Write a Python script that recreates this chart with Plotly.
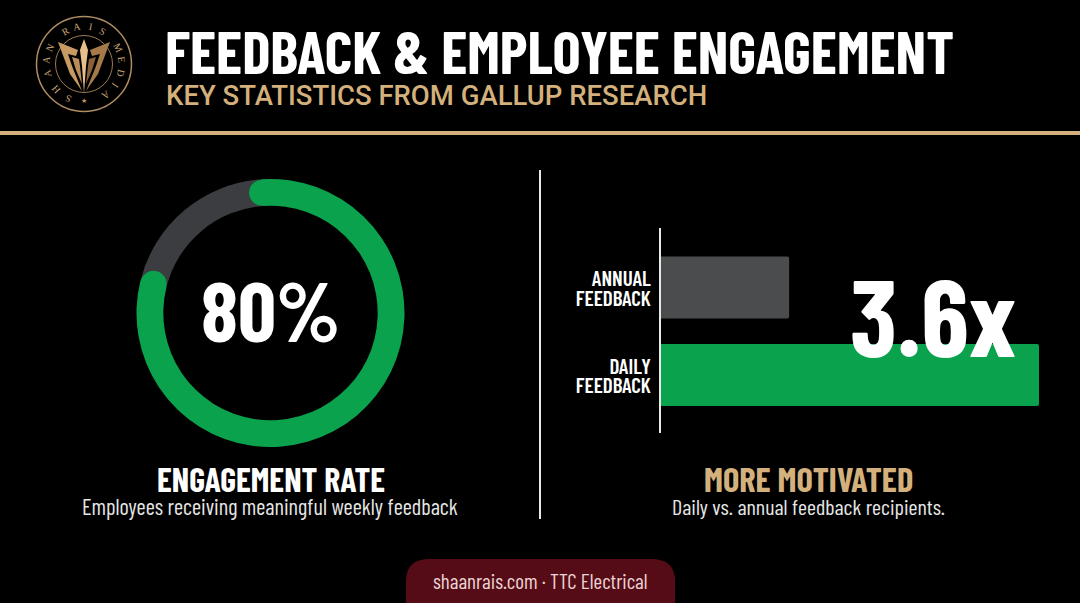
import math
import plotly.graph_objects as go

W, H = 1080, 603
FONT = "Barlow Condensed, Liberation Sans"
GOLD = "#d3b07c"
GREEN = "#0aa24d"

# data
ring_labels = ["Engaged", "Other"]
ring_values = [80, 20]
bar_labels = ["ANNUAL<br>FEEDBACK", "DAILY<br>FEEDBACK"]
bar_values = [1.0, 2.95]
bar_colors = ["#4a4c4d", GREEN]

# logo letters: (letter, degrees clockwise from the top)
logo_letters = [
    ("R", -30), ("A", -10), ("I", 10), ("S", 30),
    ("M", 64), ("E", 83), ("D", 103), ("I", 124), ("A", 146),
    ("S", 204), ("H", 228), ("A", 256), ("A", 277), ("N", 296),
]


def px(x):
    return x / W


def py(y):
    return 1 - y / H


def path(points):
    # pixel points to a closed paper path
    return "M " + " L ".join(f"{px(x):.5f},{py(y):.5f}" for x, y in points) + " Z"


def circle(cx, cy, r, **kw):
    return dict(type="circle", xref="paper", yref="paper",
                x0=px(cx - r), x1=px(cx + r), y0=py(cy + r), y1=py(cy - r), **kw)


def line(x0, y0, x1, y1, color, width):
    return dict(type="line", xref="paper", yref="paper", x0=px(x0), x1=px(x1),
                y0=py(y0), y1=py(y1), line=dict(color=color, width=width))


def text(x, y, s, size, color="white", weight=400, family=FONT, angle=0, anchor="center"):
    return dict(x=px(x), y=py(y), xref="paper", yref="paper", text=s, showarrow=False,
                textangle=angle, xanchor=anchor, yanchor="middle",
                font=dict(family=family, size=size, color=color, weight=weight))


fig = go.Figure()

# donut
cx, cy = 270.5, 313
start = -4
fig.add_trace(go.Pie(
    labels=ring_labels, values=ring_values, hole=0.8, sort=False, direction="clockwise",
    rotation=start, textinfo="none", showlegend=False,
    marker=dict(colors=[GREEN, "#3b3d40"], line=dict(width=0)),
    domain=dict(x=[px(cx - 134), px(cx + 134)], y=[py(cy + 134), py(cy - 134)]),
))

# bars
fig.add_trace(go.Bar(
    y=bar_labels, x=bar_values, orientation="h", width=0.71,
    marker=dict(color=bar_colors, line=dict(width=0), cornerradius=2),
    showlegend=False,
))

shapes = [
    line(0, 133, W, 133, GOLD, 4),
    line(540, 170, 540, 519, "#e8e8e8", 2),
    # footer tab
    dict(type="path", xref="paper", yref="paper", fillcolor="#560c17", line=dict(width=0),
         path=(f"M {px(406):.5f},{py(603):.5f} L {px(406):.5f},{py(581):.5f} "
               f"Q {px(406):.5f},{py(559):.5f} {px(430):.5f},{py(559):.5f} "
               f"L {px(651):.5f},{py(559):.5f} "
               f"Q {px(675):.5f},{py(559):.5f} {px(675):.5f},{py(581):.5f} "
               f"L {px(675):.5f},{py(603):.5f} Z")),
]

# round ends of the green arc
sweep = 360 * ring_values[0] / sum(ring_values)
for a in (start, start + sweep):
    t = math.radians(a)
    shapes.append(circle(cx + 120.5 * math.sin(t), cy - 120.5 * math.cos(t), 13,
                         fillcolor=GREEN, line=dict(width=0)))

# logo
lx, ly = 84, 64
shapes.append(circle(lx, ly, 47.5, line=dict(color="#b08d62", width=1.5)))
shapes.append(circle(lx, ly, 28.5, fillcolor="black", line=dict(color="#9c7a52", width=1)))
emblem = [
    ("#c89a63", [(58, 42), (78, 50), (76, 56), (68, 54), (72, 66), (82, 91), (70, 74), (64, 58)]),
    ("#a57a48", [(110, 42), (90, 50), (92, 56), (100, 54), (96, 66), (86, 91), (98, 74), (104, 58)]),
    ("#b98c58", [(72, 57), (79, 59), (80, 66), (82, 84), (76, 70)]),
    ("#8a6238", [(96, 57), (89, 59), (88, 66), (86, 84), (92, 70)]),
    ("#e6c08c", [(84, 39), (88, 50), (86, 66), (84, 93), (82, 66), (80, 50)]),
]
for color, pts in emblem:
    shapes.append(dict(type="path", xref="paper", yref="paper", path=path(pts),
                       fillcolor=color, line=dict(width=0)))

annotations = [
    text(559.5, 50, "FEEDBACK &amp; EMPLOYEE ENGAGEMENT", 59.5, weight=700),
    text(164, 95, "KEY STATISTICS FROM GALLUP RESEARCH", 27.5, color=GOLD, weight=500,
         family="Roboto", anchor="left"),
    text(270.5, 308, "80%", 84, weight=700),
    text(933, 314, "3.6x", 108, weight=700),
    text(271, 478, "ENGAGEMENT RATE", 33.8, weight=700),
    text(270, 506, "Employees receiving meaningful weekly feedback", 22.3, color="#e6e6e6"),
    text(808.5, 478, "MORE MOTIVATED", 34.5, color=GOLD, weight=700),
    text(808, 506, "Daily vs. annual feedback recipients.", 22, color="#e6e6e6"),
    text(540, 580, "shaanrais.com · TTC Electrical", 21, color="#ecd3d3"),
    text(84, 101, "★", 7, color="#c89a63", family="DejaVu Sans"),
]
for letter, a in logo_letters:
    t = math.radians(a)
    annotations.append(text(lx + 38 * math.sin(t), ly - 38 * math.cos(t), letter, 10,
                            color="#c8a274", family="Liberation Serif", angle=a))

fig.update_layout(
    width=W, height=H, margin=dict(l=0, r=0, t=0, b=0),
    paper_bgcolor="black", plot_bgcolor="black",
    shapes=shapes, annotations=annotations,
    xaxis=dict(domain=[px(661), px(1039)], range=[0, 2.95], visible=False, fixedrange=True),
    yaxis=dict(
        domain=[py(433), py(228)], range=[1.663, -0.68], type="category",
        categoryorder="array", categoryarray=bar_labels,
        showgrid=False, zeroline=False, showline=True, linecolor="#e8e8e8", linewidth=2,
        ticks="", ticklabelstandoff=4, fixedrange=True,
        tickfont=dict(family=FONT, size=21, color="white", weight=600),
    ),
)

# tighter line spacing in the two-line tick labels
tighten = """
document.body.style.margin = '0';
setTimeout(function () {
  document.querySelectorAll('.ytick text').forEach(function (t) {
    var lines = t.querySelectorAll('tspan.line');
    if (lines.length == 2) {
      lines[0].setAttribute('dy', '0.25em');
      lines[1].setAttribute('dy', '1.16em');
    }
  });
}, 0);
"""
fig.write_html("out.html", config=dict(displayModeBar=False), post_script=tighten)
